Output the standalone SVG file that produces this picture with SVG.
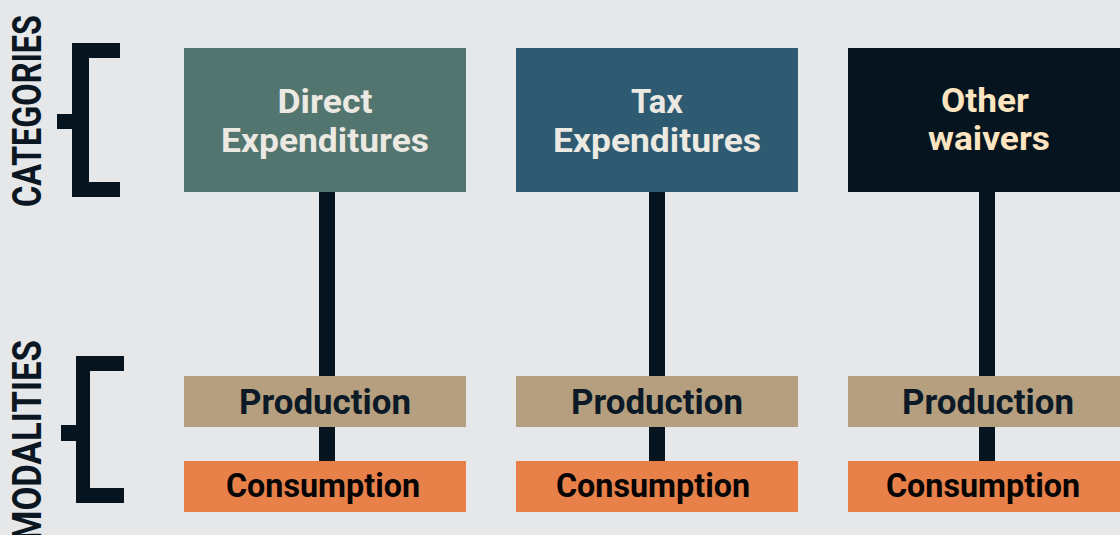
<svg xmlns="http://www.w3.org/2000/svg" width="1120" height="535" viewBox="0 0 1120 535">
<style>
text{font-family:Roboto,"Liberation Sans",sans-serif;font-weight:700;text-anchor:middle}
.lbl{font-size:40px;fill:#0a1722;text-anchor:start}
.cat{font-size:34px;fill:#ebe9e1}
.cat3{font-size:34px;fill:#fde5c1}
.prod{fill:#b59f7f}
.cons{fill:#e8804a}
.pt{font-size:35px;fill:#0b1a26}
.ct{font-size:33px;fill:#050505}
.dark{fill:#061420}
</style>
<rect width="1120" height="535" fill="#e6e7e9"/>
<g id="labels">
<text class="lbl" transform="translate(41,207) rotate(-90)" textLength="192" lengthAdjust="spacingAndGlyphs">CATEGORIES</text>
<text class="lbl" transform="translate(41,541) rotate(-90)" textLength="201" lengthAdjust="spacingAndGlyphs">MODALITIES</text>
</g>
<g id="brackets">
<path class="dark" d="M72,43H120V58H89V182H120V197H72V129H57V114H72Z"/>
<path class="dark" d="M76,356H124V371H90V488H124V503H76V441H61V425H76Z"/>
</g>
<g id="connectors">
<rect class="dark" x="319" y="190" width="16" height="272"/>
<rect class="dark" x="649" y="190" width="16" height="272"/>
<rect class="dark" x="979" y="190" width="16" height="272"/>
</g>
<g id="cat-direct">
<rect x="184" y="48" width="282" height="144" fill="#537570"/>
<text class="cat" x="325" y="113" textLength="95" lengthAdjust="spacingAndGlyphs">Direct</text>
<text class="cat" x="325" y="152" textLength="208" lengthAdjust="spacingAndGlyphs">Expenditures</text>
</g>
<g id="cat-tax">
<rect x="516" y="48" width="282" height="144" fill="#2e5b72"/>
<text class="cat" x="657" y="113" textLength="52" lengthAdjust="spacingAndGlyphs">Tax</text>
<text class="cat" x="657" y="152" textLength="208" lengthAdjust="spacingAndGlyphs">Expenditures</text>
</g>
<g id="cat-other">
<rect x="848" y="48" width="282" height="144" fill="#061420"/>
<text class="cat3" x="985" y="112" textLength="88" lengthAdjust="spacingAndGlyphs">Other</text>
<text class="cat3" x="989" y="150" textLength="122" lengthAdjust="spacingAndGlyphs">waivers</text>
</g>
<g id="prod-1"><rect class="prod" x="184" y="376" width="282" height="51"/><text class="pt" x="325" y="414" textLength="172" lengthAdjust="spacingAndGlyphs">Production</text></g>
<g id="prod-2"><rect class="prod" x="516" y="376" width="282" height="51"/><text class="pt" x="657" y="414" textLength="172" lengthAdjust="spacingAndGlyphs">Production</text></g>
<g id="prod-3"><rect class="prod" x="848" y="376" width="282" height="51"/><text class="pt" x="988" y="414" textLength="172" lengthAdjust="spacingAndGlyphs">Production</text></g>
<g id="cons-1"><rect class="cons" x="184" y="461" width="282" height="51"/><text class="ct" x="323" y="497" textLength="194" lengthAdjust="spacingAndGlyphs">Consumption</text></g>
<g id="cons-2"><rect class="cons" x="516" y="461" width="282" height="51"/><text class="ct" x="653" y="497" textLength="194" lengthAdjust="spacingAndGlyphs">Consumption</text></g>
<g id="cons-3"><rect class="cons" x="848" y="461" width="282" height="51"/><text class="ct" x="983" y="497" textLength="194" lengthAdjust="spacingAndGlyphs">Consumption</text></g>
</svg>
